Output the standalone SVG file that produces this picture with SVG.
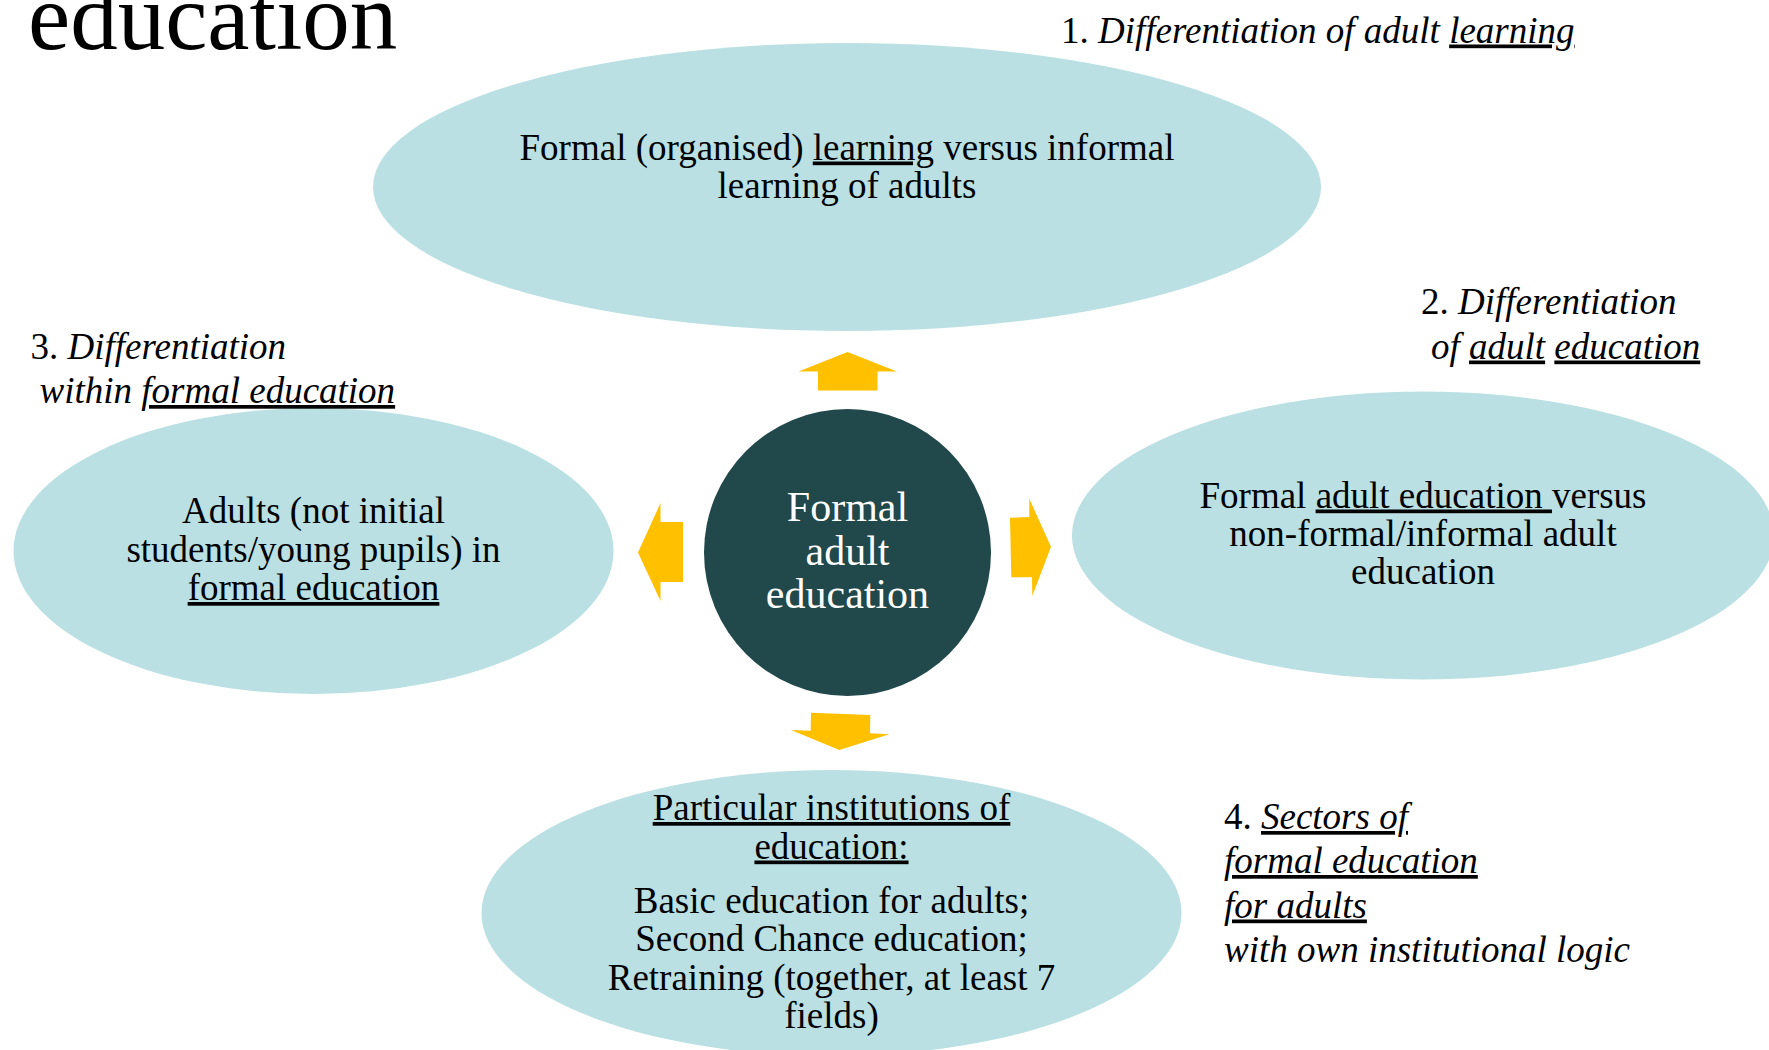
<svg xmlns="http://www.w3.org/2000/svg" width="1769" height="1050" viewBox="0 0 1769 1050">
  <style>
    text { font-family: "Liberation Serif", "Times New Roman", serif; fill: #000; }
    .node { fill: #BAE0E3; }
    .body { font-size: 37px; text-anchor: middle; }
    .label { font-size: 37px; }
    .it { font-style: italic; }
    .u { text-decoration: underline; text-decoration-thickness: 2px; text-underline-offset: 5px; }
    .hub { fill: #21484A; }
    .hubtext { font-size: 42px; fill: #FFFFFF; text-anchor: middle; }
    .arrow { fill: #FFC000; }
    .title { font-size: 95px; }
  </style>

  <rect width="1769" height="1050" fill="#FFFFFF"/>

  <!-- slide heading (partly above the visible area) -->
  <text class="title" x="28" y="49">education</text>

  <!-- outward arrows from the hub -->
  <g id="connectors">
    <polygon class="arrow" points="847.5,352 897,371.5 877.5,371.5 877.5,390.5 818,390.5 818,371.5 798.5,371.5"/>
    <polygon class="arrow" points="638,552.5 660.5,503 660.5,522 683,522 683,582 660.5,582 660.5,601"/>
    <polygon class="arrow" points="1010,517.7 1029.3,517 1029.3,498.7 1051,546.7 1032.3,596 1032,577.3 1011.3,577.3"/>
    <polygon class="arrow" points="811,712.7 870.3,715 870,733.3 889.3,734.3 839.3,750 791,730 810.7,730.7"/>
  </g>

  <!-- 1. learning -->
  <g id="node-learning">
    <ellipse class="node" cx="847" cy="187" rx="474" ry="144"/>
    <text class="body" x="847" y="159.5">Formal (organised) <tspan class="u">learning</tspan> versus informal</text>
    <text class="body" x="847" y="197.5">learning of adults</text>
  </g>

  <!-- 3. within formal education -->
  <g id="node-formal-education">
    <ellipse class="node" cx="313.5" cy="551" rx="300" ry="143"/>
    <text class="body" x="313.5" y="523">Adults (not initial</text>
    <text class="body" x="313.5" y="561.5">students/young pupils) in</text>
    <text class="body" x="313.5" y="600"><tspan class="u">formal education</tspan></text>
  </g>

  <!-- 2. adult education -->
  <g id="node-adult-education">
    <ellipse class="node" cx="1423" cy="535.5" rx="351" ry="144"/>
    <text class="body" x="1423" y="507.5">Formal <tspan class="u">adult education </tspan>versus</text>
    <text class="body" x="1423" y="545.5">non-formal/informal adult</text>
    <text class="body" x="1423" y="583.5">education</text>
  </g>

  <!-- 4. institutions -->
  <g id="node-institutions">
    <ellipse class="node" cx="831.5" cy="913" rx="350" ry="143"/>
    <text class="body" x="831.5" y="820"><tspan class="u">Particular institutions of</tspan></text>
    <text class="body" x="831.5" y="858.5"><tspan class="u">education:</tspan></text>
    <text class="body" x="831.5" y="912.5">Basic education for adults;</text>
    <text class="body" x="831.5" y="951">Second Chance education;</text>
    <text class="body" x="831.5" y="989.5">Retraining (together, at least 7</text>
    <text class="body" x="831.5" y="1028">fields)</text>
  </g>

  <!-- central hub -->
  <g id="node-hub">
    <circle class="hub" cx="847.5" cy="552.5" r="143.5"/>
    <text class="hubtext" x="847.5" y="521">Formal</text>
    <text class="hubtext" x="847.5" y="565">adult</text>
    <text class="hubtext" x="847.5" y="608">education</text>
  </g>

  <!-- dimension labels -->
  <g id="label-1">
    <text class="label" x="1061" y="42.5">1. <tspan class="it">Differentiation of adult </tspan><tspan class="it u">learning</tspan></text>
  </g>
  <g id="label-2">
    <text class="label" x="1421" y="313.5">2. <tspan class="it">Differentiation</tspan></text>
    <text class="label it" x="1431" y="358.5">of <tspan class="u">adult</tspan> <tspan class="u">education</tspan></text>
  </g>
  <g id="label-3">
    <text class="label" x="30.5" y="358.5">3. <tspan class="it">Differentiation</tspan></text>
    <text class="label it" x="39.5" y="403">within <tspan class="u">formal education</tspan></text>
  </g>
  <g id="label-4">
    <text class="label" x="1224" y="829">4. <tspan class="it u">Sectors of</tspan></text>
    <text class="label it" x="1224" y="873"><tspan class="u">formal education</tspan></text>
    <text class="label it" x="1224" y="917.5"><tspan class="u">for adults</tspan></text>
    <text class="label it" x="1224" y="962">with own institutional logic</text>
  </g>
</svg>
